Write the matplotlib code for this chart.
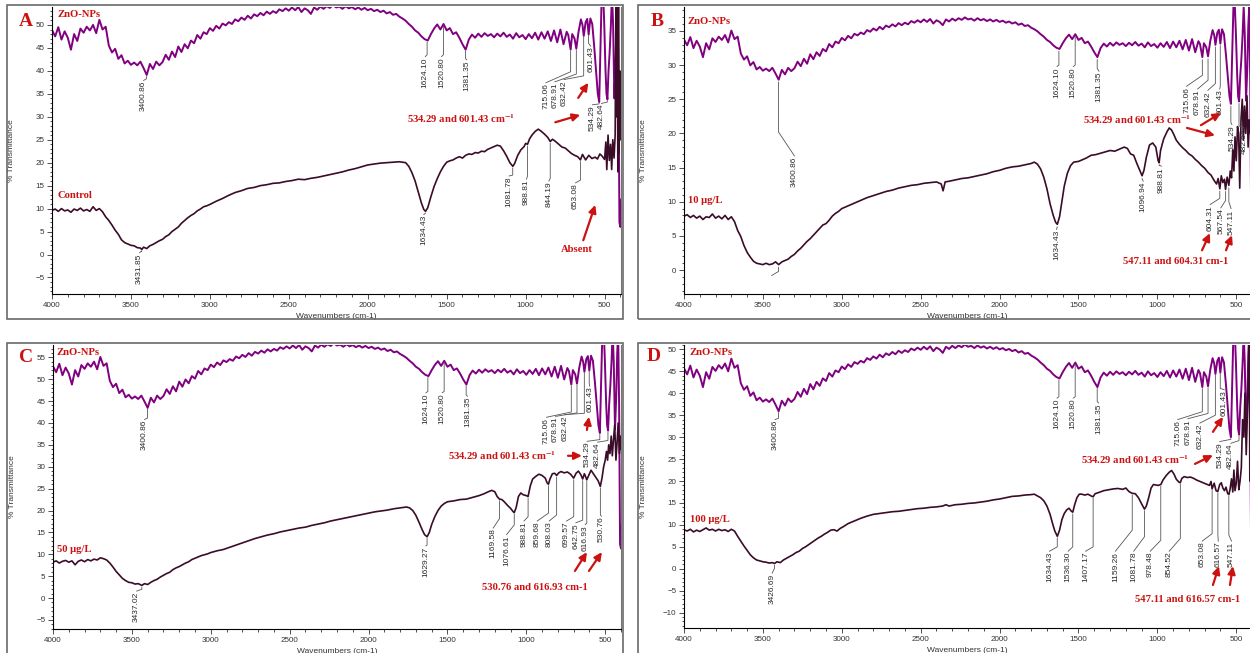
import numpy as np
import matplotlib.pyplot as plt
from matplotlib.patches import Rectangle
from matplotlib.ticker import MultipleLocator

plt.rcParams['font.family'] = ['Liberation Sans', 'DejaVu Sans']
plt.rcParams['mathtext.fontset'] = 'stix'

W, H = 1250, 653
RED = '#cc1111'
PURPLE = '#800080'
DARK = '#3a0c28'
INK = '#2a2a2a'

# ---------------- data ----------------
# ZnO-NPs spectrum (same trace in all four panels), %T read in panel A units,
# every 20 cm-1 from 4000 down to 740
ZNO_T_GRID = [
    48.9, 47.5, 49.5, 46.8, 48.6, 47.2, 44.6, 48.0, 46.5, 49.2,
    48.3, 49.6, 48.8, 50.0, 48.2, 51.1, 49.0, 49.6, 45.5, 44.0,
    44.8, 42.6, 43.4, 41.6, 42.2, 41.3, 41.8, 41.2, 42.0, 40.6,
    39.1, 41.5, 40.4, 42.0, 41.2, 41.9, 43.5, 42.4, 44.2, 43.0,
    45.3, 44.1, 45.8, 44.9, 46.6, 46.0, 47.8, 47.0, 48.4, 48.0,
    49.3, 48.7, 49.8, 49.2, 50.3, 49.9, 50.6, 50.2, 51.2, 50.8,
    51.6, 51.1, 52.0, 51.4, 52.3, 51.9, 52.6, 52.1, 52.9, 52.4,
    53.0, 52.6, 53.4, 53.0, 53.6, 53.1, 53.8, 53.2, 53.9, 52.8,
    53.6, 53.2, 52.4, 53.8, 53.3, 54.0, 53.5, 54.1, 53.7, 54.3,
    53.8, 54.0, 53.5, 54.1, 53.6, 53.9, 53.4, 53.8, 53.3, 53.7,
    53.2, 53.5, 53.0, 53.3, 52.8, 53.1, 52.5, 52.8, 52.2, 52.4,
    51.8, 51.4, 50.9, 50.2, 49.6, 48.8, 48.3, 47.5, 46.9, 46.6,
    48.0, 49.2, 50.1, 49.0, 50.2, 48.8, 49.3, 48.0, 48.4, 47.2,
    45.8, 44.6, 46.8, 47.9, 47.2, 48.1, 47.4, 48.2, 47.6, 48.0,
    47.3, 48.1, 47.5, 48.3, 47.4, 47.9, 47.0, 48.2, 47.3, 47.8,
    46.9, 48.0, 47.1, 48.3, 46.8, 48.4, 47.0, 48.6, 46.5, 48.8,
    46.2, 49.0, 45.8, 48.5,
]
# fingerprint region of ZnO-NPs, (wavenumber, %T) in panel A units
ZNO_TAIL = [
    (730, 47.8), (715, 44.6), (705, 48.0), (690, 47.0), (679, 44.8), (665, 48.5),
    (650, 51.2), (640, 50.0), (632, 47.6), (620, 50.6), (610, 51.3), (601, 47.9),
    (590, 51.4), (578, 50.2), (565, 45.0), (552, 39.0), (543, 35.0), (534, 33.2),
    (526, 45.0), (518, 57.0), (510, 58.0), (502, 50.0), (494, 40.0), (488, 35.0),
    (482, 33.8), (475, 40.0), (468, 44.0), (460, 50.0), (453, 57.0), (446, 50.0),
    (438, 34.0), (430, 42.0), (424, 52.0), (418, 57.0), (412, 40.0), (406, 7.0),
    (400, 6.0), (394, 12.0),
]

CONTROL = [
    (4000, 9.6), (3980, 9.9), (3960, 9.4), (3940, 10.0), (3920, 9.5), (3900, 9.7),
    (3880, 9.2), (3860, 9.9), (3840, 9.6), (3820, 10.1), (3800, 9.5), (3780, 9.8),
    (3760, 9.4), (3740, 10.4), (3720, 9.6), (3700, 10.0), (3680, 9.3), (3660, 8.2),
    (3640, 7.4), (3620, 6.4), (3600, 5.3), (3580, 4.4), (3560, 3.2), (3540, 2.6),
    (3520, 2.3), (3500, 2.0), (3480, 1.9), (3460, 1.5), (3440, 1.4), (3431, 1.1),
    (3420, 1.6), (3400, 1.3), (3380, 1.9), (3360, 2.2), (3340, 2.6), (3320, 3.0),
    (3300, 3.3), (3280, 3.9), (3260, 4.3), (3240, 5.0), (3220, 5.5), (3200, 6.0),
    (3180, 6.8), (3160, 7.4), (3140, 8.0), (3120, 8.5), (3100, 8.9), (3080, 9.5),
    (3060, 9.9), (3040, 10.4), (3020, 10.6), (3000, 10.9), (2960, 11.6), (2920, 12.2),
    (2880, 12.9), (2840, 13.5), (2800, 13.9), (2760, 14.4), (2720, 14.6), (2680, 15.0),
    (2640, 15.2), (2600, 15.5), (2560, 15.6), (2520, 15.9), (2480, 16.1), (2440, 16.4),
    (2400, 16.3), (2360, 16.6), (2320, 16.8), (2280, 17.1), (2240, 17.4), (2200, 17.7),
    (2160, 18.0), (2120, 18.4), (2080, 18.7), (2040, 19.1), (2000, 19.5), (1960, 19.7),
    (1920, 19.9), (1880, 20.0), (1840, 20.1), (1800, 20.2), (1760, 20.0), (1740, 19.2),
    (1720, 17.8), (1700, 16.0), (1680, 13.6), (1660, 11.2), (1645, 9.8), (1634, 9.4),
    (1620, 10.2), (1600, 12.6), (1580, 14.8), (1560, 16.5), (1540, 18.0), (1520, 19.2),
    (1500, 20.1), (1480, 20.4), (1460, 20.6), (1440, 21.0), (1420, 21.3), (1400, 21.0),
    (1380, 21.6), (1360, 21.9), (1340, 21.8), (1320, 22.2), (1300, 22.1), (1280, 22.5),
    (1260, 22.4), (1240, 22.9), (1220, 23.2), (1200, 23.5), (1180, 23.8), (1160, 23.6),
    (1140, 22.6), (1120, 21.4), (1100, 20.0), (1081, 19.2), (1070, 19.8), (1050, 21.6),
    (1030, 22.8), (1010, 23.5), (1000, 24.2), (988, 24.0), (975, 25.2), (960, 26.0),
    (940, 26.8), (920, 27.3), (900, 26.8), (880, 26.2), (860, 25.5), (844, 24.6),
    (830, 25.1), (810, 24.6), (790, 24.0), (770, 23.4), (750, 23.2), (730, 22.6),
    (710, 22.0), (690, 21.6), (670, 21.3), (653, 20.6), (640, 21.8), (620, 20.6),
    (600, 21.6), (580, 20.9), (560, 21.2), (545, 20.8), (530, 21.9), (515, 21.4),
    (500, 20.7), (492, 24.5), (486, 18.5), (478, 26.0), (470, 20.5), (462, 24.0),
    (455, 18.5), (448, 25.0), (440, 21.0), (433, 26.0), (428, 56.0), (424, 30.0),
    (420, 56.0), (416, 18.0), (412, 56.0), (408, 22.0), (404, 40.0), (400, 25.0),
    (396, 30.0),
]

DOSE_10 = [
    (4000, 7.9), (3980, 8.1), (3960, 7.7), (3940, 8.0), (3920, 7.6), (3900, 7.9),
    (3880, 7.4), (3860, 7.8), (3840, 7.7), (3820, 8.2), (3800, 7.6), (3780, 7.9),
    (3760, 7.5), (3740, 8.0), (3720, 7.4), (3700, 7.8), (3680, 7.1), (3660, 5.8),
    (3640, 4.9), (3620, 3.6), (3600, 2.6), (3580, 1.9), (3560, 1.3), (3540, 1.0),
    (3520, 0.9), (3500, 0.8), (3480, 1.0), (3460, 0.8), (3440, 0.9), (3420, 1.2),
    (3400, 0.8), (3380, 1.2), (3360, 1.4), (3340, 1.6), (3320, 2.0), (3300, 2.3),
    (3280, 2.8), (3260, 3.2), (3240, 3.7), (3220, 4.2), (3200, 4.6), (3180, 5.1),
    (3160, 5.6), (3140, 6.1), (3120, 6.6), (3100, 6.8), (3080, 7.3), (3060, 7.9),
    (3040, 8.3), (3020, 8.6), (3000, 9.0), (2960, 9.4), (2920, 9.8), (2880, 10.2),
    (2840, 10.6), (2800, 10.9), (2760, 11.2), (2720, 11.5), (2680, 11.7), (2640, 12.0),
    (2600, 12.2), (2560, 12.4), (2520, 12.5), (2480, 12.7), (2440, 12.8), (2400, 12.9),
    (2370, 12.6), (2358, 11.6), (2345, 12.9), (2320, 13.0), (2280, 13.2), (2240, 13.4),
    (2200, 13.5), (2160, 13.7), (2120, 13.9), (2080, 14.1), (2040, 14.4), (2000, 14.6),
    (1960, 14.9), (1920, 15.1), (1880, 15.2), (1840, 15.4), (1800, 15.6), (1780, 15.8),
    (1760, 15.5), (1740, 14.8), (1720, 13.6), (1700, 11.9), (1680, 9.7), (1660, 8.0),
    (1645, 7.0), (1634, 6.7), (1620, 7.8), (1605, 10.0), (1590, 12.3), (1570, 14.2),
    (1550, 15.3), (1530, 15.8), (1500, 15.9), (1480, 16.1), (1450, 16.4), (1420, 16.8),
    (1390, 16.9), (1360, 17.1), (1330, 17.3), (1300, 17.5), (1270, 17.4), (1240, 17.7),
    (1210, 18.0), (1190, 17.8), (1170, 17.0), (1150, 16.8), (1130, 15.6), (1110, 14.5),
    (1097, 13.8), (1085, 14.6), (1070, 16.5), (1050, 18.3), (1030, 18.6), (1010, 18.0),
    (995, 16.0), (989, 15.7), (980, 17.5), (960, 19.2), (940, 20.2), (925, 20.8),
    (910, 20.5), (895, 19.8), (880, 19.0), (860, 18.4), (840, 17.9), (820, 17.5),
    (800, 17.0), (780, 16.7), (760, 16.2), (740, 15.8), (720, 15.3), (700, 14.9),
    (680, 14.3), (660, 13.9), (640, 13.1), (625, 12.6), (615, 13.4), (604, 11.9),
    (595, 13.8), (585, 12.8), (575, 13.3), (568, 11.8), (558, 13.6), (547, 12.4),
    (538, 14.5), (530, 13.5), (522, 17.6), (515, 14.5), (508, 19.5), (500, 16.0),
    (492, 21.0), (485, 20.0), (478, 12.0), (470, 22.0), (462, 25.0), (455, 19.0),
    (448, 24.0), (440, 20.0), (432, 25.5), (425, 18.0), (418, 22.0), (410, 20.0),
]

DOSE_50 = [
    (4000, 8.2), (3980, 8.5), (3960, 8.0), (3940, 8.4), (3920, 8.6), (3900, 8.2),
    (3880, 8.5), (3860, 7.6), (3840, 8.4), (3820, 8.7), (3800, 8.3), (3780, 8.8),
    (3760, 8.5), (3740, 8.9), (3720, 8.7), (3700, 9.2), (3680, 9.0), (3660, 8.7),
    (3640, 8.0), (3620, 7.1), (3600, 6.1), (3580, 5.3), (3560, 4.5), (3540, 4.0),
    (3520, 3.6), (3500, 3.5), (3480, 3.2), (3460, 3.3), (3437, 2.9), (3420, 3.3),
    (3400, 3.1), (3380, 3.6), (3360, 4.0), (3340, 4.3), (3320, 4.8), (3300, 5.2),
    (3280, 5.6), (3260, 5.9), (3240, 6.5), (3220, 6.9), (3200, 7.2), (3180, 7.6),
    (3160, 8.0), (3140, 8.3), (3120, 8.8), (3100, 9.1), (3080, 9.4), (3060, 9.7),
    (3040, 9.9), (3020, 10.1), (3000, 10.4), (2960, 10.8), (2920, 11.1), (2880, 11.6),
    (2840, 12.1), (2800, 12.6), (2760, 13.1), (2720, 13.6), (2680, 14.0), (2640, 14.4),
    (2600, 14.7), (2560, 15.1), (2520, 15.4), (2480, 15.7), (2440, 16.0), (2400, 16.2),
    (2360, 16.6), (2320, 16.9), (2280, 17.2), (2240, 17.6), (2200, 17.9), (2160, 18.2),
    (2120, 18.5), (2080, 18.8), (2040, 19.1), (2000, 19.4), (1960, 19.7), (1920, 19.9),
    (1880, 20.1), (1840, 20.4), (1800, 20.6), (1760, 20.8), (1740, 20.6), (1720, 20.0),
    (1700, 18.9), (1680, 17.3), (1660, 15.6), (1645, 14.5), (1629, 14.0), (1615, 15.0),
    (1600, 16.8), (1580, 18.6), (1560, 20.0), (1540, 21.0), (1520, 21.6), (1500, 22.0),
    (1460, 22.2), (1420, 22.5), (1380, 22.6), (1340, 23.0), (1300, 23.4), (1270, 23.8),
    (1240, 24.3), (1220, 24.6), (1200, 24.3), (1185, 23.2), (1170, 22.6), (1155, 22.5),
    (1140, 22.0), (1120, 21.2), (1100, 20.5), (1085, 19.8), (1077, 19.5), (1065, 20.6),
    (1050, 23.2), (1035, 24.0), (1020, 23.6), (1000, 23.4), (989, 23.2), (975, 25.6),
    (960, 27.2), (940, 27.8), (920, 28.3), (900, 28.0), (880, 27.4), (868, 26.3),
    (860, 26.0), (850, 27.2), (835, 28.4), (820, 28.5), (808, 28.0), (795, 28.6),
    (780, 28.9), (760, 28.6), (740, 28.8), (720, 28.3), (700, 27.4), (685, 28.5),
    (670, 29.0), (655, 28.2), (643, 27.2), (632, 28.4), (625, 27.8), (617, 27.0),
    (605, 28.0), (590, 29.2), (575, 28.4), (560, 27.6), (545, 26.8), (531, 25.5),
    (520, 27.5), (510, 30.0), (500, 31.5), (492, 33.5), (485, 31.5), (478, 35.0),
    (470, 33.0), (462, 37.0), (455, 32.5), (448, 36.0), (440, 39.5), (432, 31.5),
    (425, 35.5), (418, 40.0), (410, 33.0), (404, 37.0), (398, 34.0),
]

DOSE_100 = [
    (4000, 8.9), (3980, 8.6), (3960, 9.0), (3940, 8.4), (3920, 8.8), (3900, 8.5),
    (3880, 8.9), (3860, 9.3), (3840, 8.8), (3820, 9.0), (3800, 8.6), (3780, 9.0),
    (3760, 8.7), (3740, 8.9), (3720, 8.5), (3700, 9.0), (3680, 8.6), (3660, 7.4),
    (3640, 6.3), (3620, 5.2), (3600, 4.2), (3580, 3.2), (3560, 2.5), (3540, 2.0),
    (3520, 1.8), (3500, 1.6), (3480, 1.5), (3460, 1.3), (3440, 1.4), (3427, 1.2),
    (3410, 1.6), (3390, 1.4), (3370, 2.0), (3350, 2.4), (3330, 2.8), (3310, 3.2),
    (3290, 3.7), (3270, 4.0), (3250, 4.6), (3230, 5.0), (3210, 5.5), (3190, 6.0),
    (3170, 6.5), (3150, 7.0), (3130, 7.4), (3110, 7.9), (3090, 8.3), (3070, 8.8),
    (3050, 8.9), (3030, 8.6), (3010, 9.2), (2990, 9.6), (2960, 10.3), (2920, 10.9),
    (2880, 11.5), (2840, 12.0), (2800, 12.4), (2760, 12.6), (2720, 12.8), (2680, 13.0),
    (2640, 13.1), (2600, 13.3), (2560, 13.5), (2520, 13.7), (2480, 13.8), (2440, 14.0),
    (2400, 14.1), (2360, 14.3), (2340, 14.6), (2320, 14.3), (2280, 14.6), (2240, 14.7),
    (2200, 14.9), (2160, 15.0), (2120, 15.2), (2080, 15.4), (2040, 15.7), (2000, 15.9),
    (1960, 16.2), (1920, 16.5), (1880, 16.6), (1840, 16.8), (1800, 16.9), (1780, 17.0),
    (1760, 16.6), (1740, 16.2), (1720, 15.5), (1700, 14.3), (1680, 12.4), (1665, 10.4),
    (1650, 8.6), (1634, 7.4), (1620, 8.8), (1605, 11.2), (1590, 12.6), (1575, 13.4),
    (1560, 13.8), (1545, 13.1), (1536, 12.9), (1525, 14.5), (1510, 16.2), (1495, 17.0),
    (1480, 17.0), (1460, 16.8), (1440, 17.0), (1420, 16.6), (1407, 16.4), (1395, 17.1),
    (1370, 17.4), (1340, 17.8), (1310, 18.0), (1280, 18.2), (1250, 18.3), (1220, 18.1),
    (1200, 18.4), (1180, 17.6), (1160, 17.2), (1140, 17.1), (1120, 16.2), (1100, 14.8),
    (1082, 13.6), (1070, 14.3), (1055, 16.2), (1040, 18.4), (1025, 19.2), (1010, 19.1),
    (995, 19.0), (978, 19.2), (965, 20.2), (945, 21.2), (925, 22.0), (910, 22.4),
    (895, 21.6), (880, 20.4), (865, 19.8), (855, 19.6), (845, 20.6), (830, 21.0),
    (810, 20.8), (790, 20.9), (770, 20.6), (750, 20.2), (730, 19.9), (710, 19.6),
    (690, 19.3), (670, 19.0), (660, 19.9), (653, 18.2), (640, 19.5), (628, 17.8),
    (617, 17.6), (605, 19.2), (595, 19.6), (585, 18.4), (575, 17.8), (565, 18.6),
    (555, 17.2), (547, 16.9), (540, 18.0), (530, 20.5), (522, 17.5), (515, 22.5),
    (508, 17.8), (500, 19.5), (492, 24.5), (484, 18.0), (476, 20.0), (468, 23.0),
    (460, 34.0), (452, 30.0), (445, 40.0), (437, 26.0), (430, 35.0), (422, 45.0),
    (418, 56.0), (414, 20.0), (410, 56.0),
]

# peak labels: (text, peak wavenumber, leader bend %T, text wavenumber, text top %T)
ZNO_LABELS_A = [
    ("3400.86", 3400.86, 38.3, 3420, 37.8), ("1624.10", 1624.10, 43.5, 1636, 43.0),
    ("1520.80", 1520.80, 43.5, 1533, 43.0), ("1381.35", 1381.35, 42.7, 1373, 42.3),
    ("715.06", 715.06, 39.8, 872, 37.3), ("678.91", 678.91, 39.3, 815, 37.5),
    ("632.42", 632.42, 38.9, 757, 38.0), ("601.43", 601.43, 46.0, 588, 45.3),
    ("534.29", 534.29, 32.8, 577, 32.5), ("482.64", 482.64, 33.2, 520, 32.8),
]
CTRL_LABELS_A = [
    ("3431.85", 3431.85, 0.8, 3445, 0.3), ("1634.43", 1634.43, 9.0, 1645, 8.6),
    ("1081.78", 1081.78, 17.3, 1105, 17.0), ("988.81", 988.81, 17.0, 995, 16.3),
    ("844.19", 844.19, 16.6, 853, 15.9), ("653.08", 653.08, 16.2, 684, 15.5),
]
ZNO_LABELS_B = [
    ("3400.86", 3400.86, 20.2, 3300, 16.6), ("1624.10", 1624.10, 30.0, 1636, 29.7),
    ("1520.80", 1520.80, 30.0, 1533, 29.7), ("1381.35", 1381.35, 29.5, 1370, 29.0),
    ("715.06", 715.06, 28.5, 815, 26.8), ("678.91", 678.91, 27.8, 745, 26.4),
    ("632.42", 632.42, 27.3, 680, 26.2), ("601.43", 601.43, 26.9, 605, 26.4),
    ("534.29", 534.29, 21.6, 528, 21.2), ("482.64", 482.64, 21.1, 452, 20.7),
]
TRT_LABELS_B = [
    ("", 3400.86, -0.2, 3445, -0.9), ("1634.43", 1634.43, 6.3, 1640, 5.85),
    ("1096.94", 1096.94, 13.4, 1090, 12.9), ("988.81", 988.81, 15.4, 975, 15.1),
    ("604.31", 604.31, 10.5, 665, 9.5), ("567.54", 567.54, 10.2, 598, 9.0),
    ("547.11", 547.11, 10.0, 533, 8.9),
]
ZNO_LABELS_C = [
    ("3400.86", 3400.86, 41.1, 3420, 40.7), ("1624.10", 1624.10, 47.2, 1636, 46.8),
    ("1520.80", 1520.80, 47.2, 1533, 46.8), ("1381.35", 1381.35, 46.4, 1373, 46.0),
    ("715.06", 715.06, 42.5, 872, 41.2), ("678.91", 678.91, 42.3, 815, 41.4),
    ("632.42", 632.42, 42.2, 757, 41.8), ("601.43", 601.43, 49.1, 598, 48.3),
    ("534.29", 534.29, 36.2, 615, 35.7), ("482.64", 482.64, 36.0, 548, 35.5),
]
TRT_LABELS_C = [
    ("3437.02", 3437.02, 2.0, 3470, 1.5), ("1629.27", 1629.27, 12.1, 1636, 11.8),
    ("1169.58", 1169.58, 18.2, 1210, 15.9), ("1076.61", 1076.61, 16.7, 1125, 14.4),
    ("988.81", 988.81, 18.6, 1015, 17.5), ("859.68", 859.68, 19.4, 931, 17.5),
    ("808.03", 808.03, 19.0, 855, 17.5), ("699.57", 699.57, 18.6, 745, 17.5),
    ("642.75", 642.75, 17.8, 686, 17.1), ("616.93", 616.93, 17.1, 627, 16.7),
    ("530.76", 530.76, 19.0, 523, 18.6),
]
ZNO_LABELS_D = [
    ("3400.86", 3400.86, 34.3, 3423, 33.9), ("1624.10", 1624.10, 39.2, 1636, 38.8),
    ("1520.80", 1520.80, 39.2, 1533, 38.8), ("1381.35", 1381.35, 38.1, 1373, 37.7),
    ("715.06", 715.06, 35.8, 871, 33.9), ("678.91", 678.91, 35.4, 807, 34.1),
    ("632.42", 632.42, 35.0, 731, 33.1), ("601.43", 601.43, 41.1, 576, 40.7),
    ("534.29", 534.29, 29.5, 605, 28.9), ("482.64", 482.64, 29.2, 535, 28.5),
]
TRT_LABELS_D = [
    ("3426.69", 3426.69, 0.1, 3441, -1.1), ("1634.43", 1634.43, 5.0, 1684, 3.9),
    ("1536.30", 1536.30, 5.0, 1565, 3.9), ("1407.17", 1407.17, 5.0, 1455, 3.9),
    ("1159.26", 1159.26, 8.8, 1266, 3.9), ("1081.78", 1081.78, 7.3, 1150, 3.9),
    ("978.48", 978.48, 6.5, 1045, 3.9), ("854.52", 854.52, 6.9, 925, 3.9),
    ("653.08", 653.08, 8.0, 716, 6.2), ("616.57", 616.57, 7.7, 614, 6.2),
    ("547.11", 547.11, 7.7, 530, 6.2),
]

ZNO_NOTE = r'534.29 and 601.43 cm$^{\mathbf{-1}}$'

PANELS = [
    dict(letter="A", letter_px=(26, 21), box=(52, 7, 621, 294), frame=(7, 5, 623, 319),
         xlim=(4000, 396), ylim=(-8.6, 53.9), zno_level=(1.0, 0.0), right=True,
         sample=CONTROL, name="Control", name_at=(3968, 12.9), zno_at=(3968, 52.2),
         zno_labels=ZNO_LABELS_A, trt_labels=CTRL_LABELS_A,
         notes=[(ZNO_NOTE, 1750, 29.7, 'left'), ("Absent", 673, 1.0, 'center')],
         arrows=[((667, 34.1), (603, 37.4)), ((812, 28.8), (654, 30.4)),
                 ((635, 3.1), (559, 10.8))]),
    dict(letter="B", letter_px=(657, 21), box=(684, 7, 1250, 294), frame=(638, 5, 1253, 319),
         xlim=(4000, 413), ylim=(-3.5, 38.5), zno_level=(0.60, 4.4), right=False,
         sample=DOSE_10, name="10 µg/L", name_at=(3975, 10.2), zno_at=(3975, 36.4),
         zno_labels=ZNO_LABELS_B, trt_labels=TRT_LABELS_B,
         notes=[(ZNO_NOTE, 1471, 22.1, 'left'), ("547.11 and 604.31 cm-1", 1218, 1.3, 'left')],
         arrows=[((724, 21.2), (597, 23.0)), ((812, 20.8), (635, 19.7)),
                 ((717, 2.9), (667, 5.4)), ((565, 2.9), (527, 5.1))]),
    dict(letter="C", letter_px=(26, 358), box=(53, 345, 621, 629), frame=(7, 343, 623, 660),
         xlim=(4000, 400), ylim=(-7.06, 57.8), zno_level=(0.97, 5.5), right=True,
         sample=DOSE_50, name="50 µg/L", name_at=(3975, 11.0), zno_at=(3975, 56.0),
         zno_labels=ZNO_LABELS_C, trt_labels=TRT_LABELS_C,
         notes=[(ZNO_NOTE, 1497, 32.5, 'left'), ("530.76 and 616.93 cm-1", 1281, 2.5, 'left')],
         arrows=[((616, 38.4), (603, 41.4)), ((736, 32.5), (648, 32.5)),
                 ((692, 6.2), (616, 10.5)), ((603, 6.2), (521, 10.5))]),
    dict(letter="D", letter_px=(654, 357), box=(684, 345, 1250, 628), frame=(638, 343, 1253, 660),
         xlim=(4000, 413), ylim=(-13.5, 51.0), zno_level=(1.0, -3.2), right=False,
         sample=DOSE_100, name="100 µg/L", name_at=(3962, 11.3), zno_at=(3962, 49.4),
         zno_labels=ZNO_LABELS_D, trt_labels=TRT_LABELS_D,
         notes=[(ZNO_NOTE, 1484, 25.0, 'left'), ("547.11 and 616.57 cm-1", 1142, -7.1, 'left')],
         arrows=[((648, 31.2), (584, 34.6)), ((762, 23.9), (648, 25.9)),
                 ((648, -3.7), (610, 0.6)), ((540, -3.7), (521, 0.6))]),
]

zno_wn = np.concatenate([4000 - 20 * np.arange(len(ZNO_T_GRID)), [p[0] for p in ZNO_TAIL]])
zno_t = np.concatenate([ZNO_T_GRID, [p[1] for p in ZNO_TAIL]])


def frac_box(l, t, r, b):
    return [l / W, 1 - b / H, (r - l) / W, (b - t) / H]


def leaders(ax, labels, wn, t):
    for text, pk, t_bend, wn_text, t_text in labels:
        t0 = np.interp(pk, wn[::-1], t[::-1]) - 0.4
        ax.plot([pk, pk, wn_text], [t0, t_bend, t_text + 0.1], color='#555555', lw=0.6)
        if text:
            ax.text(wn_text, t_text, text, rotation=90, ha='center', va='top',
                    fontsize=6.0, color=INK)


fig = plt.figure(figsize=(W / 100, H / 100), dpi=100)

for p in PANELS:
    x0, y0, x1, y1 = p['frame']
    l, b, w, h = frac_box(x0, y0, x1, y1)
    fig.patches.append(Rectangle((l, b), w, h, transform=fig.transFigure, fill=False,
                                 ec='#6a6a6a', lw=1.2))

    ax = fig.add_axes(frac_box(*p['box']))
    ax.set_xlim(*p['xlim'])
    ax.set_ylim(*p['ylim'])

    k, off = p['zno_level']
    z = k * zno_t + off
    ax.plot(zno_wn, z, color=PURPLE, lw=1.4)
    swn = np.array([q[0] for q in p['sample']])
    st = np.array([q[1] for q in p['sample']])
    ax.plot(swn, st, color=DARK, lw=1.2)

    leaders(ax, p['zno_labels'], zno_wn, z)
    leaders(ax, p['trt_labels'], swn, st)

    serif = dict(family='Liberation Serif', fontweight='bold', color=RED, fontsize=7.7)
    ax.text(*p['zno_at'], "ZnO-NPs", va='center', ha='left', **serif)
    ax.text(*p['name_at'], p['name'], va='center', ha='left', **serif)
    for s, xw, yt, ha in p['notes']:
        ax.text(xw, yt, s, va='center', ha=ha, **serif)
    for tail, head in p['arrows']:
        ax.annotate('', xy=head, xytext=tail,
                    arrowprops=dict(arrowstyle='-|>,head_length=0.45,head_width=0.22',
                                    color=RED, lw=1.6, shrinkA=0, shrinkB=0))

    ax.spines['top'].set_visible(False)
    ax.spines['right'].set_visible(p['right'])
    ax.spines['right'].set_color('#777777')
    ax.spines['left'].set_linewidth(0.8)
    ax.spines['bottom'].set_linewidth(0.8)
    ax.xaxis.set_major_locator(MultipleLocator(500))
    ax.xaxis.set_minor_locator(MultipleLocator(100))
    ax.yaxis.set_major_locator(MultipleLocator(5))
    ax.yaxis.set_minor_locator(MultipleLocator(1))
    ax.tick_params(which='both', direction='out', labelsize=5.8, colors='#333333', width=0.6)
    ax.tick_params(which='major', length=3.5, pad=2)
    ax.tick_params(which='minor', length=1.8)
    ax.set_xlabel('Wavenumbers (cm-1)', fontsize=6, color='#333333', labelpad=3)
    ax.set_ylabel('% Transmittance', fontsize=6, color='#333333')
    ax.yaxis.set_label_coords(-0.065, 0.5)

    lx, ly = p['letter_px']
    fig.text(lx / W, 1 - ly / H, p['letter'], ha='center', va='center', color=RED,
             family='Liberation Serif', fontweight='bold', fontsize=14)

fig.savefig('out.png', dpi=100)
